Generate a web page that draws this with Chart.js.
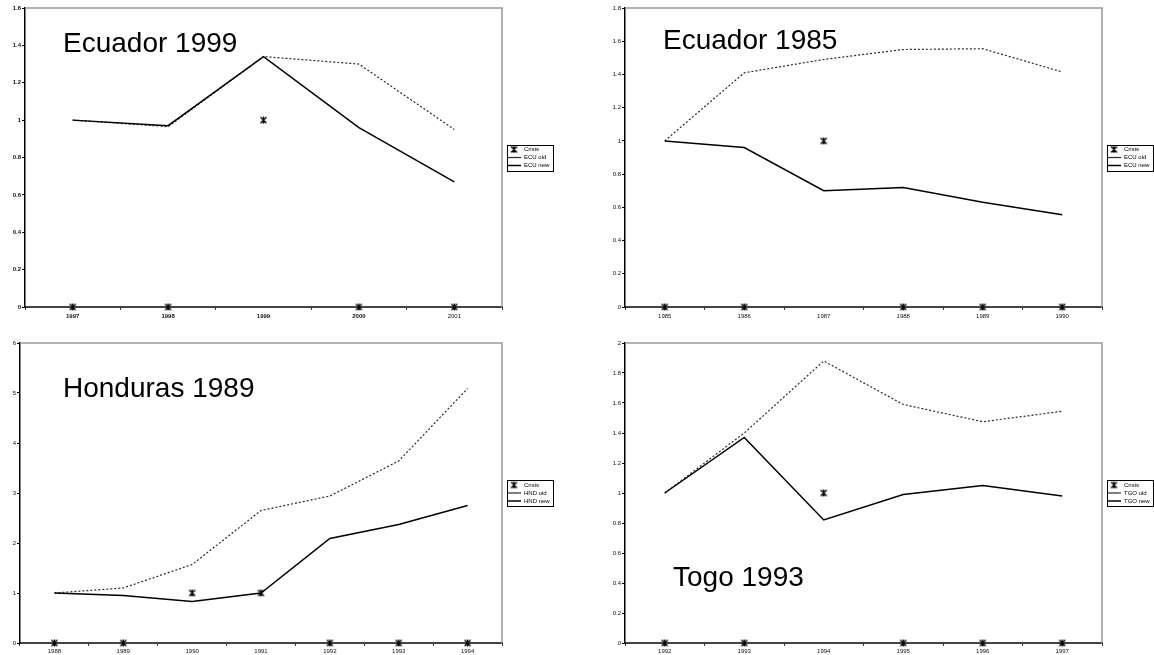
<!DOCTYPE html>
<html><head><meta charset="utf-8">
<script src="https://cdn.jsdelivr.net/npm/chart.js@4.4.1/dist/chart.umd.min.js"></script>
<style>
html,body{margin:0;padding:0;background:#fff;}
body{width:1154px;height:655px;position:relative;overflow:hidden;font-family:"Liberation Sans",Arial,sans-serif;}
.panel{position:absolute;}
.panel canvas{display:block;}
.title{position:absolute;font-size:28px;line-height:28px;color:#000;white-space:nowrap;font-family:"Liberation Sans",Arial,sans-serif;}
</style></head><body>
<div class="panel" style="left:0;top:0;width:577px;height:327px"><canvas id="c1" width="577" height="327"></canvas></div>
<div class="panel" style="left:577px;top:0;width:577px;height:327px"><canvas id="c2" width="577" height="327"></canvas></div>
<div class="panel" style="left:0;top:327px;width:577px;height:328px"><canvas id="c3" width="577" height="328"></canvas></div>
<div class="panel" style="left:577px;top:327px;width:577px;height:328px"><canvas id="c4" width="577" height="328"></canvas></div>
<div class="title" style="left:63px;top:29px">Ecuador 1999</div>
<div class="title" style="left:663px;top:26px">Ecuador 1985</div>
<div class="title" style="left:63px;top:374px">Honduras 1989</div>
<div class="title" style="left:673px;top:563px">Togo 1993</div>
<script>
// ---- Data ----
const ecu99Years = ['1997', '1998', '1999', '2000', '2001'];
const ecu99Crisis = [0, 0, 1, 0, 0];
const ecu99Old = [1.0, 0.965, 1.34, 1.30, 0.95];
const ecu99New = [1.0, 0.97, 1.34, 0.96, 0.67];
const ecu99YTicks = [0, 0.2, 0.4, 0.6, 0.8, 1, 1.2, 1.4, 1.6];
const ecu99Labels = ['Crisis', 'ECU old', 'ECU new'];

const ecu85Years = ['1985', '1986', '1987', '1988', '1989', '1990'];
const ecu85Crisis = [0, 0, 1, 0, 0, 0];
const ecu85Old = [1.0, 1.41, 1.49, 1.55, 1.555, 1.415];
const ecu85New = [1.0, 0.96, 0.70, 0.72, 0.63, 0.555];
const ecu85YTicks = [0, 0.2, 0.4, 0.6, 0.8, 1, 1.2, 1.4, 1.6, 1.8];
const ecu85Labels = ['Crisis', 'ECU old', 'ECU new'];

const hndYears = ['1988', '1989', '1990', '1991', '1992', '1993', '1994'];
const hndCrisis = [0, 0, 1, 1, 0, 0, 0];
const hndOld = [1.0, 1.1, 1.57, 2.65, 2.94, 3.64, 5.09];
const hndNew = [1.0, 0.95, 0.83, 1.0, 2.09, 2.37, 2.75];
const hndYTicks = [0, 1, 2, 3, 4, 5, 6];
const hndLabels = ['Crisis', 'HND old', 'HND new'];

const tgoYears = ['1992', '1993', '1994', '1995', '1996', '1997'];
const tgoCrisis = [0, 0, 1, 0, 0, 0];
const tgoOld = [1.0, 1.40, 1.88, 1.59, 1.475, 1.545];
const tgoNew = [1.0, 1.37, 0.82, 0.99, 1.05, 0.98];
const tgoYTicks = [0, 0.2, 0.4, 0.6, 0.8, 1, 1.2, 1.4, 1.6, 1.8, 2];
const tgoLabels = ['Crisis', 'TGO old', 'TGO new'];

// ---- Rendering ----
const FAMILY = '"Liberation Sans", Arial, sans-serif';

function makeStar() {
  const c = document.createElement('canvas');
  c.width = 9; c.height = 9;
  const g = c.getContext('2d');
  g.strokeStyle = '#000';
  g.lineWidth = 1.4;
  g.beginPath();
  g.moveTo(1.5, 1.5); g.lineTo(7.5, 7.5);
  g.moveTo(7.5, 1.5); g.lineTo(1.5, 7.5);
  g.moveTo(4.5, 1); g.lineTo(4.5, 8);
  g.stroke();
  return c;
}
const STAR = makeStar();

const framePlugin = {
  id: 'frame',
  afterLayout(chart) {
    const l = chart.legend;
    if (l) { l.left += 3; l.right += 3; }
  },
  afterDraw(chart) {
    const ctx = chart.ctx, a = chart.chartArea;
    ctx.save();
    ctx.strokeStyle = '#9a9a9a';
    ctx.lineWidth = 1.5;
    ctx.beginPath();
    ctx.moveTo(a.left, a.top);
    ctx.lineTo(a.right, a.top);
    ctx.lineTo(a.right, a.bottom);
    ctx.stroke();
    const l = chart.legend;
    const hb = l && l.legendHitBoxes;
    if (hb && hb.length) {
      const top = hb[0].top - 2;
      const last = hb[hb.length - 1];
      const bot = last.top + last.height + 2;
      ctx.strokeStyle = '#000';
      ctx.lineWidth = 1;
      ctx.strokeRect(Math.round(l.left + 2) + 0.5, Math.round(top) + 0.5, 46, Math.round(bot - top));
    }
    ctx.restore();
  }
};

function makePanel(id, years, crisis, oldV, newV, yTicks, names, geo) {
  const boldFn = (i) => (geo.bold && i < geo.boldCount) ? 'bold' : 'normal';
  new Chart(document.getElementById(id), {
    type: 'line',
    data: {
      labels: years,
      datasets: [
        { label: names[0], data: crisis, showLine: false, pointStyle: STAR, pointRadius: 4, pointHoverRadius: 4,
          borderColor: '#000', backgroundColor: '#000', clip: false, order: 0 },
        { label: names[1], data: oldV, borderColor: '#2a2a2a', backgroundColor: '#2a2a2a', borderWidth: 1.2,
          borderDash: [2, 2], pointStyle: 'line', pointRadius: 0, fill: false, tension: 0, order: 2 },
        { label: names[2], data: newV, borderColor: '#000', backgroundColor: '#000', borderWidth: 1.5,
          pointStyle: 'line', pointRadius: 0, fill: false, tension: 0, order: 1 }
      ]
    },
    options: {
      responsive: false,
      animation: false,
      devicePixelRatio: 1,
      events: [],
      layout: { padding: { left: 0, top: geo.top, right: geo.right, bottom: 0 } },
      scales: {
        x: {
          offset: true,
          afterFit: (s) => { s.height = geo.xh; },
          ticks: {
            maxRotation: 0, autoSkip: false, padding: geo.xpad, color: '#111',
            font: (c) => ({ size: 6, family: FAMILY, weight: boldFn(c.index) })
          },
          grid: { display: true, offset: true, drawOnChartArea: false, drawTicks: true, tickLength: 3, color: '#333' },
          border: { display: true, color: '#444', width: 2 }
        },
        y: {
          min: 0, max: yTicks[yTicks.length - 1],
          afterBuildTicks: (s) => { s.ticks = yTicks.map(v => ({ value: v })); },
          afterFit: (s) => { s.width = geo.yw; },
          ticks: {
            padding: 1, color: '#111',
            font: { size: 6, family: FAMILY, weight: geo.bold ? 'bold' : 'normal' },
            callback: (v) => String(v)
          },
          grid: { display: true, drawOnChartArea: false, drawTicks: true, tickLength: 3, color: '#000' },
          border: { display: true, color: '#000', width: 1.5 }
        }
      },
      plugins: {
        tooltip: { enabled: false },
        title: { display: false },
        legend: {
          position: 'right',
          fullSize: false,
          maxWidth: 52,
          labels: {
            usePointStyle: true, pointStyleWidth: 14, boxHeight: 6, padding: 2, color: '#000',
            font: { size: 6, family: FAMILY },
            sort: (a, b) => a.datasetIndex - b.datasetIndex
          }
        }
      }
    },
    plugins: [framePlugin]
  });
}

makePanel('c1', ecu99Years, ecu99Crisis, ecu99Old, ecu99New, ecu99YTicks, ecu99Labels,
  { top: 8, right: 23, yw: 25, xh: 20, xpad: 3, bold: true, boldCount: 4 });
makePanel('c2', ecu85Years, ecu85Crisis, ecu85Old, ecu85New, ecu85YTicks, ecu85Labels,
  { top: 8, right: 0, yw: 48, xh: 20, xpad: 3, bold: false, boldCount: 0 });
makePanel('c3', hndYears, hndCrisis, hndOld, hndNew, hndYTicks, hndLabels,
  { top: 16, right: 23, yw: 20, xh: 12, xpad: 2, bold: false, boldCount: 0 });
makePanel('c4', tgoYears, tgoCrisis, tgoOld, tgoNew, tgoYTicks, tgoLabels,
  { top: 16, right: 0, yw: 48, xh: 12, xpad: 2, bold: false, boldCount: 0 });
</script>
</body></html>
